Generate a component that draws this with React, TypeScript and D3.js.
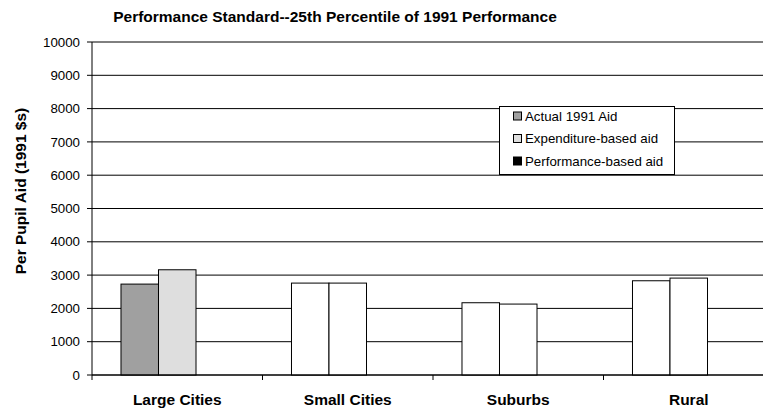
import React from "react";
import * as d3 from "d3";

const categories = ["Large Cities", "Small Cities", "Suburbs", "Rural"];
const seriesNames = ["Actual 1991 Aid", "Expenditure-based aid", "Performance-based aid"];
const actual1991 = [2730, 2760, 2170, 2830];
const expenditureBased = [3160, 2760, 2130, 2910];
const performanceBased = [0, 0, 0, 0];
const yTicks = [0, 1000, 2000, 3000, 4000, 5000, 6000, 7000, 8000, 9000, 10000];
const title = "Performance Standard--25th Percentile of 1991 Performance";
const yTitle = "Per Pupil Aid (1991 $s)";

const seriesValues = [actual1991, expenditureBased, performanceBased];
const seriesFill = ["#a0a0a0", "#dedede", "#000000"];

const W = 763;
const H = 412;
const plotLeft = 92;
const plotRight = 774;
const plotTop = 42;
const plotBottom = 375;

export default function App() {
  const x = d3
    .scaleBand<string>()
    .domain(categories)
    .range([plotLeft, plotRight])
    .paddingInner(0.34)
    .paddingOuter(0.17);
  const xs = d3
    .scaleBand<string>()
    .domain(seriesNames)
    .range([0, x.bandwidth()]);
  const y = d3.scaleLinear().domain([0, 10000]).range([plotBottom, plotTop]);
  const halfGap = (x.step() - x.bandwidth()) / 2;

  return (
    <svg
      width={W}
      height={H}
      style={{ position: "absolute", left: 0, top: 0, background: "#fff" }}
      fontFamily="'Liberation Sans', Arial, sans-serif"
    >
      <rect x={0} y={0} width={W} height={H} fill="#fff" />
      {/* gridlines */}
      {yTicks.map((t) => (
        <line
          key={"g" + t}
          x1={plotLeft}
          x2={plotRight}
          y1={y(t)}
          y2={y(t)}
          stroke="#000"
          strokeWidth={1}
        />
      ))}
      {/* bars */}
      {categories.map((c, ci) => (
        <g key={c}>
          {seriesNames.map((s, si) => {
            const v = seriesValues[si][ci];
            if (v <= 0) return null;
            const fill = ci === 0 ? seriesFill[si] : "#fff";
            return (
              <rect
                key={s}
                x={(x(c) as number) + (xs(s) as number)}
                y={y(v)}
                width={xs.bandwidth()}
                height={plotBottom - y(v)}
                fill={fill}
                stroke="#000"
                strokeWidth={1}
              />
            );
          })}
        </g>
      ))}
      {/* y axis */}
      <line x1={plotLeft} x2={plotLeft} y1={plotTop} y2={plotBottom} stroke="#000" />
      {yTicks.map((t) => (
        <g key={"t" + t}>
          <line x1={plotLeft - 5} x2={plotLeft} y1={y(t)} y2={y(t)} stroke="#000" />
          <text
            x={80}
            y={y(t)}
            dy="0.35em"
            textAnchor="end"
            fontSize={13.3}
            fill="#000"
          >
            {t}
          </text>
        </g>
      ))}
      {/* x axis */}
      <line x1={plotLeft} x2={plotRight} y1={plotBottom} y2={plotBottom} stroke="#000" />
      {categories.map((c) => (
        <g key={"x" + c}>
          <line
            x1={(x(c) as number) - halfGap}
            x2={(x(c) as number) - halfGap}
            y1={plotBottom}
            y2={plotBottom + 5}
            stroke="#000"
          />
          <text
            x={(x(c) as number) + x.bandwidth() / 2}
            y={405}
            textAnchor="middle"
            fontSize={15.5}
            fontWeight="bold"
            fill="#000"
          >
            {c}
          </text>
        </g>
      ))}
      {/* title */}
      <text x={335} y={22} textAnchor="middle" fontSize={15.5} fontWeight="bold" fill="#000">
        {title}
      </text>
      {/* y title */}
      <text
        transform="translate(26,191) rotate(-90)"
        textAnchor="middle"
        fontSize={15.5}
        fontWeight="bold"
        fill="#000"
      >
        {yTitle}
      </text>
      {/* legend */}
      <g>
        <rect x={499.5} y={106.5} width={175} height={68} fill="#fff" stroke="#000" />
        {seriesNames.map((s, i) => (
          <g key={"l" + s} transform={`translate(0, ${116 + i * 22.5})`}>
            <rect x={513.5} y={-4} width={8} height={8} fill={seriesFill[i]} stroke="#000" />
            <text x={525} y={0} dy="0.35em" fontSize={13.3} fill="#000">
              {s}
            </text>
          </g>
        ))}
      </g>
    </svg>
  );
}
